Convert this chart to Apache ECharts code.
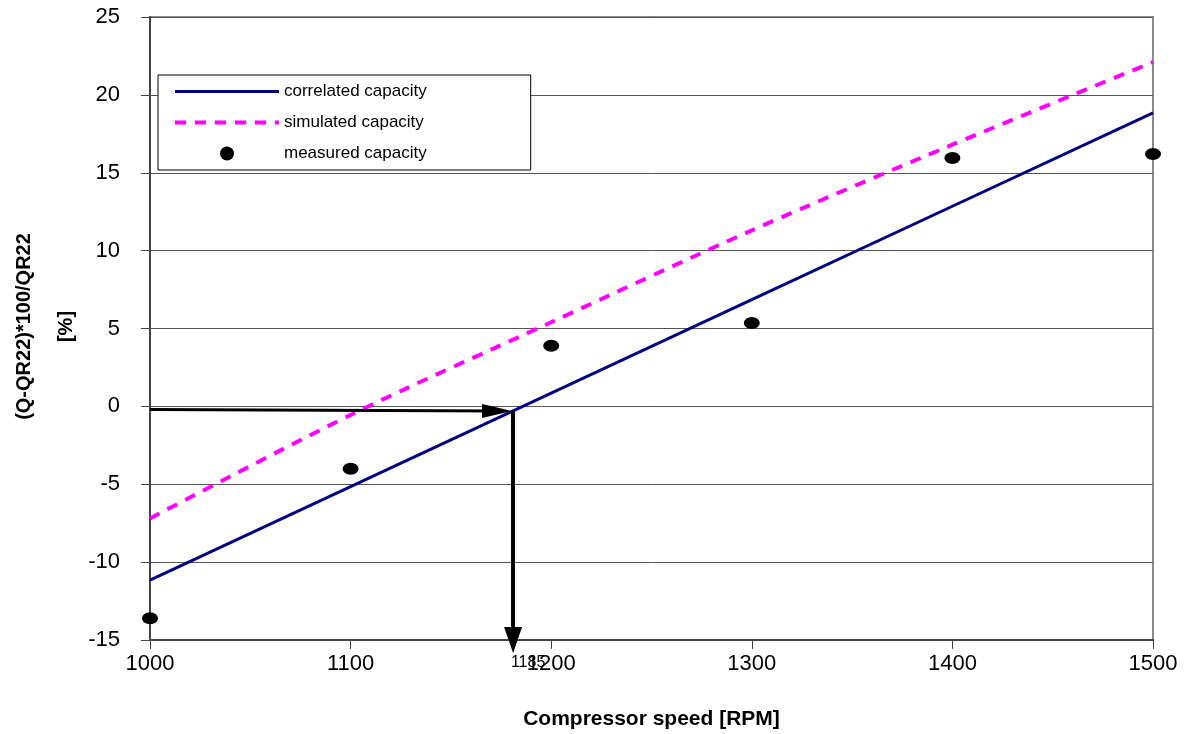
<!DOCTYPE html>
<html>
<head>
<meta charset="utf-8">
<script src="https://cdn.jsdelivr.net/npm/echarts@6/dist/echarts.min.js"></script>
<style>
html,body{margin:0;padding:0;background:#fff;}
#chart{width:1190px;height:734px;}
</style>
</head>
<body>
<div id="chart"></div>
<script>
// ---- data ----
var speeds = [1000, 1100, 1200, 1300, 1400, 1500];
var correlated = [-11.15, -5.15, 0.85, 6.85, 12.85, 18.85];
var simulated = [-7.2, -0.55, 5.4, 11.3, 16.8, 22.1];
var measured = [-13.6, -4.0, 3.9, 5.35, 15.95, 16.2];
var seriesNames = ['correlated capacity', 'simulated capacity', 'measured capacity'];
var yTicks = [-15, -10, -5, 0, 5, 10, 15, 20, 25];
var xTicks = [1000, 1100, 1200, 1300, 1400, 1500];
var arrowHStart = [1000, -0.2];
var arrowHEnd = [1173, -0.3];
var arrowVStart = [1181, -0.32];
var arrowVEnd = [1181, -15];
var readSpeed = 1185;
var xName = 'Compressor speed [RPM]';
var yName = '(Q-QR22)*100/QR22\n[%]';

function pairs(xs, ys) { return xs.map(function (x, i) { return [x, ys[i]]; }); }

var chart = echarts.init(document.getElementById('chart'), null, {renderer: 'canvas'});
var FONT = '"Liberation Sans", Arial, sans-serif';
var plain = function (v) { return String(v); };

chart.setOption({
  animation: false,
  backgroundColor: '#fff',
  textStyle: {fontFamily: FONT},
  grid: {left: 150, right: 37, top: 17, bottom: 94, show: true, borderColor: '#8a8a8a', borderWidth: 2,
         backgroundColor: 'transparent', containLabel: false, outerBoundsMode: 'none'},
  legend: {
    data: [
      {name: seriesNames[0], itemStyle: {opacity: 0}, lineStyle: {width: 3}},
      {name: seriesNames[1], itemStyle: {opacity: 0}, lineStyle: {width: 4}},
      {name: seriesNames[2]}
    ],
    orient: 'vertical',
    left: 158, top: 75,
    itemWidth: 104, itemHeight: 14, itemGap: 14,
    padding: [8, 104, 8, 15],
    backgroundColor: '#fff', borderColor: '#000', borderWidth: 1,
    textStyle: {color: '#000', fontSize: 17, fontFamily: FONT},
    selectedMode: false
  },
  xAxis: {
    type: 'value', min: xTicks[0], max: xTicks[xTicks.length - 1], interval: 100,
    name: xName, nameLocation: 'middle', nameGap: 69,
    nameTextStyle: {fontSize: 21, fontWeight: 'bold', color: '#000', fontFamily: FONT},
    axisLine: {show: true, onZero: false, lineStyle: {color: '#444', width: 2}},
    axisTick: {show: true, length: 9, lineStyle: {color: '#444', width: 1}},
    axisLabel: {fontSize: 22, color: '#000', margin: 13, fontFamily: FONT, formatter: plain},
    splitLine: {show: false}
  },
  yAxis: {
    type: 'value', min: yTicks[0], max: yTicks[yTicks.length - 1], interval: 5,
    axisLine: {show: true, onZero: false, lineStyle: {color: '#444', width: 2}},
    axisTick: {show: true, length: 9, lineStyle: {color: '#444', width: 1}},
    axisLabel: {fontSize: 22, color: '#000', margin: 30, fontFamily: FONT, formatter: plain},
    splitLine: {show: true, lineStyle: {color: '#555', width: 1}}
  },
  series: [
    {
      name: seriesNames[0], type: 'line', data: pairs(speeds, correlated),
      symbol: 'none', lineStyle: {color: '#000080', width: 3}, itemStyle: {color: '#000080'}, z: 3
    },
    {
      name: seriesNames[1], type: 'line', data: pairs(speeds, simulated), smooth: 0.3,
      symbol: 'none', lineStyle: {color: '#ff00ff', width: 4, type: [11, 9]}, itemStyle: {color: '#ff00ff'}, z: 2
    },
    {
      name: seriesNames[2], type: 'scatter', data: pairs(speeds, measured),
      symbol: 'circle', symbolSize: [16, 12], itemStyle: {color: '#000', opacity: 1}, z: 5, clip: false
    },
    {
      name: 'arrowH', type: 'line', data: [], clip: false, silent: true,
      markLine: {
        silent: true, animation: false,
        symbol: ['none', 'triangle'], symbolSize: [14, 30],
        lineStyle: {color: '#000', width: 3, type: 'solid'},
        label: {show: false}, emphasis: {disabled: true},
        data: [[{coord: arrowHStart}, {coord: arrowHEnd}]]
      }
    },
    {
      name: 'arrowV', type: 'line', data: [], clip: false, silent: true,
      markLine: {
        silent: true, animation: false,
        symbol: ['none', 'triangle'], symbolSize: [18, 26],
        lineStyle: {color: '#000', width: 4, type: 'solid'},
        label: {show: false}, emphasis: {disabled: true},
        data: [[{coord: arrowVStart}, {coord: arrowVEnd}]]
      }
    }
  ]
});

// "1185" reading label and the y-axis title, placed through the chart's own scale
var p = chart.convertToPixel({gridIndex: 0}, [readSpeed, yTicks[0]]);
var yTop = chart.convertToPixel({gridIndex: 0}, [xTicks[0], yTicks[yTicks.length - 1]]);
var yMid = (p[1] + yTop[1]) / 2;
chart.setOption({
  graphic: [
    {
      type: 'text', x: p[0] + 7, y: p[1] + 15, silent: true,
      style: {text: String(readSpeed), fontSize: 16, fill: '#000', fontFamily: FONT, align: 'center', verticalAlign: 'top'}
    },
    {
      type: 'text', x: yTop[0] - 105, y: yMid - 2, rotation: Math.PI / 2, silent: true,
      style: {text: yName, fontSize: 20, fontWeight: 'bold', lineHeight: 42, fill: '#000', fontFamily: FONT, align: 'center', verticalAlign: 'middle'}
    }
  ]
});
</script>
</body>
</html>
